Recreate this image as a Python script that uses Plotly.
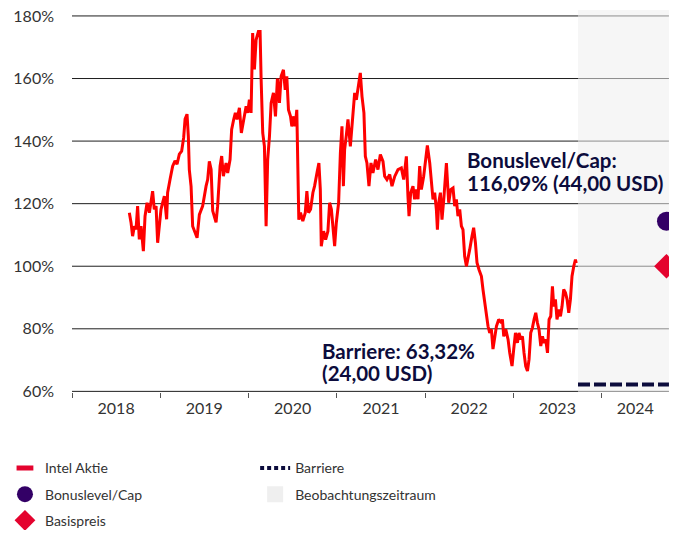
import datetime as dt
import plotly.graph_objects as go

# ---- data (decimal year, % of Basispreis) ----
years = [
    2018.650, 2018.669, 2018.687, 2018.707, 2018.726, 2018.744, 2018.763, 2018.783, 2018.809, 2018.828,
    2018.851, 2018.877, 2018.914, 2018.933, 2018.953, 2018.971, 2018.990, 2019.009, 2019.028, 2019.047,
    2019.073, 2019.084, 2019.112, 2019.141, 2019.168, 2019.191, 2019.217, 2019.243, 2019.266, 2019.282,
    2019.304, 2019.319, 2019.330, 2019.350, 2019.368, 2019.395, 2019.418, 2019.444, 2019.481, 2019.520,
    2019.538, 2019.557, 2019.577, 2019.595, 2019.633, 2019.651, 2019.679, 2019.697, 2019.716, 2019.747,
    2019.765, 2019.792, 2019.810, 2019.833, 2019.852, 2019.871, 2019.898, 2019.920, 2019.943, 2019.974,
    2019.992, 2020.011, 2020.030, 2020.048, 2020.068, 2020.087, 2020.113, 2020.132, 2020.144, 2020.162,
    2020.181, 2020.200, 2020.218, 2020.238, 2020.257, 2020.283, 2020.306, 2020.328, 2020.351, 2020.370,
    2020.396, 2020.416, 2020.434, 2020.453, 2020.476, 2020.491, 2020.513, 2020.529, 2020.547, 2020.559,
    2020.570, 2020.589, 2020.615, 2020.643, 2020.661, 2020.680, 2020.703, 2020.729, 2020.748, 2020.779,
    2020.797, 2020.813, 2020.824, 2020.850, 2020.873, 2020.899, 2020.918, 2020.938, 2020.956, 2020.975,
    2020.994, 2021.020, 2021.040, 2021.058, 2021.074, 2021.088, 2021.108, 2021.126, 2021.153, 2021.176,
    2021.202, 2021.221, 2021.251, 2021.266, 2021.285, 2021.307, 2021.323, 2021.341, 2021.364, 2021.387,
    2021.409, 2021.440, 2021.466, 2021.493, 2021.523, 2021.542, 2021.568, 2021.599, 2021.625, 2021.656,
    2021.693, 2021.731, 2021.758, 2021.788, 2021.806, 2021.818, 2021.837, 2021.863, 2021.882, 2021.902,
    2021.920, 2021.939, 2021.958, 2021.984, 2022.007, 2022.026, 2022.053, 2022.072, 2022.090, 2022.109,
    2022.128, 2022.140, 2022.155, 2022.174, 2022.192, 2022.215, 2022.242, 2022.268, 2022.291, 2022.317,
    2022.336, 2022.355, 2022.373, 2022.393, 2022.412, 2022.430, 2022.449, 2022.469, 2022.487, 2022.506,
    2022.532, 2022.551, 2022.571, 2022.589, 2022.612, 2022.639, 2022.657, 2022.676, 2022.696, 2022.714,
    2022.733, 2022.752, 2022.770, 2022.790, 2022.809, 2022.835, 2022.866, 2022.877, 2022.892, 2022.915,
    2022.941, 2022.960, 2022.986, 2023.005, 2023.025, 2023.047, 2023.065, 2023.085, 2023.104, 2023.122,
    2023.141, 2023.161, 2023.179, 2023.198, 2023.217, 2023.236, 2023.255, 2023.274, 2023.292, 2023.312,
    2023.331, 2023.349, 2023.368, 2023.388, 2023.406, 2023.425, 2023.444, 2023.459, 2023.478, 2023.496,
    2023.516, 2023.535, 2023.553, 2023.572, 2023.592, 2023.610, 2023.629, 2023.648, 2023.666, 2023.686,
    2023.705, 2023.714,
]
intel = [
    117.1, 114.0, 109.6, 112.8, 111.8, 119.2, 108.6, 112.8, 104.8, 116.0,
    120.3, 117.1, 124.0, 118.2, 119.2, 107.5, 112.8, 118.2, 120.3, 122.4,
    115.0, 123.5, 127.8, 132.0, 133.7, 132.6, 135.8, 136.8, 141.1, 147.0,
    148.6, 141.5, 130.9, 125.5, 112.8, 110.7, 109.1, 116.5, 119.2, 125.6,
    127.7, 133.5, 130.9, 117.7, 114.0, 119.2, 132.0, 135.2, 128.8, 133.0,
    129.8, 134.1, 143.7, 146.9, 149.0, 146.9, 150.6, 142.6, 146.9, 151.1,
    149.0, 153.2, 149.0, 174.5, 162.9, 172.4, 175.0, 175.0, 159.6, 142.6,
    138.3, 112.8, 134.1, 141.5, 152.2, 155.4, 147.9, 160.0, 152.2, 160.7,
    162.8, 156.4, 160.7, 150.0, 147.9, 144.7, 147.9, 144.7, 150.0, 126.6,
    114.9, 117.1, 114.4, 117.1, 124.0, 117.1, 118.2, 123.5, 125.6, 130.4,
    133.0, 124.5, 106.4, 111.2, 108.5, 111.2, 120.3, 118.2, 111.8, 106.4,
    113.9, 120.3, 136.2, 144.7, 125.6, 137.3, 142.0, 146.9, 138.3, 147.9,
    155.4, 153.2, 158.5, 161.8, 154.3, 149.0, 135.1, 133.0, 125.6, 133.0,
    129.8, 134.1, 130.9, 135.7, 133.5, 128.8, 127.7, 129.3, 125.6, 128.7,
    130.9, 131.4, 127.7, 135.1, 122.4, 116.0, 123.5, 125.6, 121.4, 124.5,
    121.4, 132.0, 124.5, 128.7, 134.1, 138.6, 133.0, 126.6, 121.4, 123.5,
    118.2, 111.7, 120.3, 123.5, 114.9, 122.4, 133.0, 120.3, 124.5, 125.0,
    119.2, 121.4, 116.0, 118.2, 112.8, 111.7, 103.2, 100.0, 102.1, 105.3,
    109.6, 112.3, 107.5, 101.1, 98.9, 96.8, 92.5, 88.3, 85.1, 80.8,
    78.7, 79.8, 73.5, 77.6, 80.8, 83.0, 81.9, 83.0, 77.6, 79.8,
    76.6, 72.3, 68.1, 73.4, 78.7, 75.5, 78.7, 76.6, 77.6, 72.3,
    68.1, 66.5, 70.2, 78.7, 80.3, 83.0, 85.1, 81.9, 79.8, 74.5,
    77.6, 75.5, 76.6, 72.3, 83.0, 84.0, 93.6, 87.2, 89.4, 83.0,
    86.2, 84.0, 87.2, 92.6, 91.5, 89.4, 85.1, 89.4, 96.8, 100.0,
    102.1, 101.0,
]

axis_start = 2018.0
chart_end = 2024.763          # end of grid / observation period
range_end = 2024.854          # axis range (leaves room for end markers)
obs_start = 2023.734          # Beobachtungszeitraum
final_date = 2024.735         # Bonuslevel/Cap & Basispreis markers
bonus_level = 114.4
basis_level = 100.0
barrier_level = 62.2
y_ticks = [60, 80, 100, 120, 140, 160, 180]
y_labels = ["60%", "80%", "100%", "120%", "140%", "160%", "180%"]
x_years = [2018, 2019, 2020, 2021, 2022, 2023, 2024]

# text labels: (text, decimal year of left edge, value at line centre)
label_lines = [
    ("Bonuslevel/Cap:", 2022.449, 133.8),
    ("116,09% (44,00 USD)", 2022.449, 126.7),
    ("Barriere: 63,32%", 2020.814, 73.0),
    ("(24,00 USD)", 2020.814, 65.8),
]


def to_date(y):
    yr = int(y)
    start = dt.datetime(yr, 1, 1)
    days = (dt.datetime(yr + 1, 1, 1) - start).total_seconds()
    return start + dt.timedelta(seconds=(y - yr) * days)


dates = [to_date(y) for y in years]
# year labels centred on the visible part of each year
label_pos = [to_date((max(y, axis_start) + min(y + 1, chart_end)) / 2) for y in x_years]

RED_LINE = "#ff0000"
RED = "#e4032e"
PURPLE = "#330066"
NAVY = "#0c0c3c"
TXT = "#333333"
GRID = "#1e1e1e"
GRID_OBS = "#8e8e8e"
SHADE = "#f6f6f6"
FONT = "Lato, sans-serif"

fig = go.Figure()

fig.add_trace(go.Scatter(x=dates, y=intel, mode="lines", line=dict(color=RED_LINE, width=3),
                         showlegend=False, hoverinfo="skip"))
fig.add_trace(go.Scatter(x=[to_date(obs_start), to_date(chart_end)], y=[barrier_level, barrier_level],
                         mode="lines", line=dict(color=NAVY, width=4, dash="12px,4px"),
                         showlegend=False))
fig.add_trace(go.Scatter(x=[to_date(final_date)], y=[bonus_level], mode="markers",
                         marker=dict(color=PURPLE, size=19, symbol="circle"),
                         showlegend=False, cliponaxis=False))
fig.add_trace(go.Scatter(x=[to_date(final_date)], y=[basis_level], mode="markers",
                         marker=dict(color=RED, size=19, symbol="diamond"),
                         showlegend=False, cliponaxis=False))

leg = [
    ("Intel Aktie", dict(mode="markers", marker=dict(symbol="line-ew", size=12,
                                                     line=dict(color=RED, width=5))), "legend"),
    ("Bonuslevel/Cap", dict(mode="markers", marker=dict(color=PURPLE, size=16, symbol="circle")), "legend"),
    ("Basispreis", dict(mode="markers", marker=dict(color=RED, size=16, symbol="diamond")), "legend"),
    ("Barriere", dict(mode="lines", line=dict(color=NAVY, width=4, dash="4px,3px")), "legend2"),
    ("Beobachtungszeitraum", dict(mode="markers", marker=dict(color="#efefef", size=16, symbol="square")), "legend2"),
]
for i, (name, kw, lg) in enumerate(leg):
    fig.add_trace(go.Scatter(x=[None], y=[None], name=name, legend=lg, legendgroup=f"g{i}", **kw))

# observation period shading and grid lines (grid ends where the chart ends)
fig.add_shape(type="rect", xref="x", yref="paper", x0=to_date(obs_start), x1=to_date(chart_end),
              y0=0, y1=1, fillcolor=SHADE, line_width=0, layer="below")
for v in y_ticks:
    fig.add_shape(type="line", xref="x", yref="y", x0=to_date(axis_start), x1=to_date(obs_start),
                  y0=v, y1=v, line=dict(color=GRID, width=1), layer="below")
    fig.add_shape(type="line", xref="x", yref="y", x0=to_date(obs_start), x1=to_date(chart_end),
                  y0=v, y1=v, line=dict(color=GRID_OBS, width=1), layer="below")

for txt, xv, yv in label_lines:
    fig.add_annotation(x=to_date(xv), y=yv, text=txt, showarrow=False,
                       xanchor="left", yanchor="middle", align="left",
                       font=dict(family=FONT, size=20.5, color=NAVY, weight="bold"))

fig.update_layout(
    width=669, height=522,
    margin=dict(l=64, r=0, t=2, b=138, autoexpand=False),
    plot_bgcolor="white", paper_bgcolor="white",
    font=dict(family=FONT, size=16, color=TXT),
    legend=dict(x=-0.1108, y=-0.158, xanchor="left", yanchor="top", orientation="v",
                tracegroupgap=5, font=dict(size=14, color=TXT), bgcolor="rgba(0,0,0,0)"),
    legend2=dict(x=0.3027, y=-0.158, xanchor="left", yanchor="top", orientation="v",
                 tracegroupgap=5, font=dict(size=14, color=TXT), bgcolor="rgba(0,0,0,0)"),
    xaxis=dict(range=[to_date(axis_start), to_date(range_end)], type="date",
               tickvals=label_pos, ticktext=[str(y) for y in x_years], ticks="",
               minor=dict(ticks="outside", ticklen=5, tickcolor="#555",
                          tickvals=[to_date(y) for y in x_years], showgrid=False),
               showgrid=False, zeroline=False, showline=False, ticklabelstandoff=5,
               tickfont=dict(size=16, color=TXT)),
    yaxis=dict(range=[59.8, 181.9], tickvals=y_ticks, ticktext=y_labels, showgrid=False,
               zeroline=False, showline=False,
               ticklabelstandoff=17, ticklabeloverflow="allow",
               tickfont=dict(size=16, color=TXT)),
)

fig.write_html(
    "out.html",
    post_script="document.documentElement.style.overflow='hidden';document.body.style.overflow='hidden';",
)
